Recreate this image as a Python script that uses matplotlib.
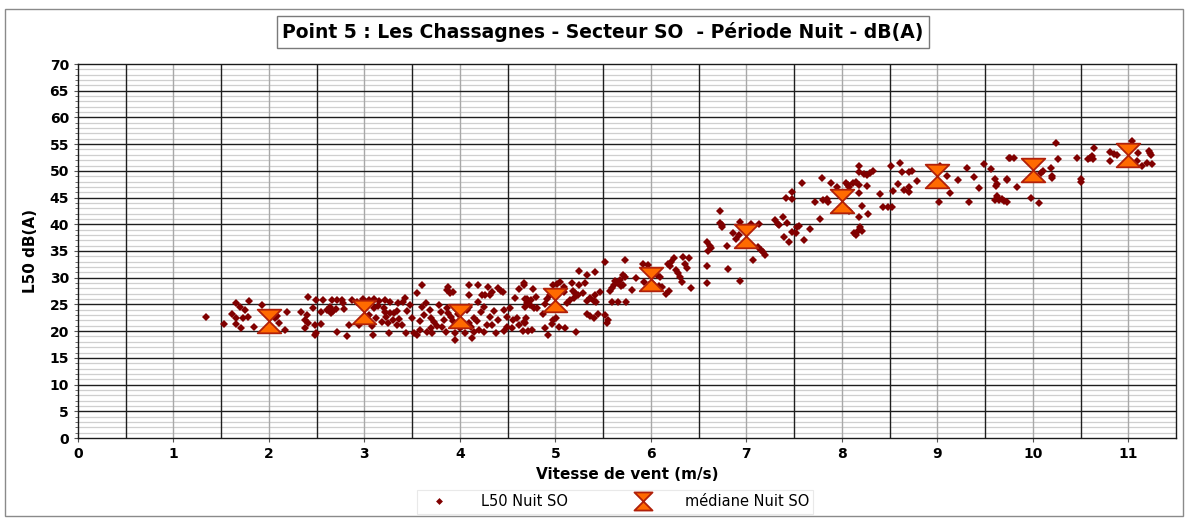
import numpy as np
import matplotlib
matplotlib.use("Agg")
import matplotlib.pyplot as plt
from matplotlib.path import Path
from matplotlib.patches import Rectangle
from matplotlib.lines import Line2D
from matplotlib.ticker import MultipleLocator

# ---------------- data ----------------
title = "Point 5 : Les Chassagnes - Secteur SO  - Période Nuit - dB(A)"
x_label = "Vitesse de vent (m/s)"
y_label = "L50 dB(A)"
series_points = "L50 Nuit SO"
series_median = "médiane Nuit SO"

median_speed = [2, 3, 4, 5, 6, 7, 8, 9, 10, 11]
median_l50 = [21.9, 23.6, 22.8, 25.8, 29.8, 37.8, 44.4, 49.0, 50.2, 53.0]

points_a = [(1.34,22.7),(1.66,25.2),(1.70,24.6),(1.79,25.6),(1.61,23.3),(1.75,24.0),(1.65,22.4),(1.73,22.4),
            (1.78,22.7),(1.53,21.3),(1.65,21.3),(1.71,20.5),(1.84,20.8),(1.93,24.8),(2.06,22.4),(2.10,21.5),
            (2.08,22.8),(2.01,20.2),(2.17,20.2),(2.19,23.5),(2.34,23.5),(2.41,26.4),(2.40,23.0),(2.38,22.1),
            (2.41,21.5),(2.38,20.6),(2.46,24.3),(2.49,25.8),(2.57,25.8),(2.48,21.1),(2.49,19.6),(2.48,19.2),
            (2.55,21.3),(2.55,23.6),(2.61,24.0),(2.64,24.5),(2.67,23.8),(2.70,24.2),(2.65,23.4),(2.66,25.8),
            (2.71,25.8),(2.76,25.8),(2.78,25.3),(2.71,19.9),(2.82,19.0),(2.79,24.1),(2.84,21.1),(2.87,25.8),
            (2.92,25.4),(2.94,21.1)]
points_b = [(2.99,26.1),(3.05,25.8),(3.10,26.0),(3.15,25.7),(3.22,25.8),(3.27,25.5),(3.04,24.9),(3.10,24.4),
            (3.14,24.7),(3.20,24.4),(3.22,23.6),(3.27,23.4),(3.31,23.4),(3.34,23.7),(3.23,22.7),(3.30,22.1),
            (3.36,22.3),(3.39,21.1),(3.34,21.2),(3.09,19.3),(3.26,19.6),(3.44,19.6),(3.52,19.6),(3.55,19.3),
            (3.48,24.9),(3.55,27.1),(3.60,28.6),(3.60,24.6),(3.69,24.0),(3.70,22.4),(3.73,21.7),(3.76,21.0),
            (3.70,20.6),(3.71,19.6),(3.81,20.8),(3.86,27.7),(3.90,27.2),(3.93,27.3),(3.88,28.3),(3.86,24.3),
            (3.88,23.4),(3.91,22.6),(3.93,21.9),(3.83,22.1),(3.95,19.6),(3.95,18.3),(4.00,20.5),(4.00,22.1),
            (4.07,24.0),(4.10,24.5),(4.09,21.6),(4.12,20.8),(4.15,22.5),(4.18,21.9),(4.15,19.8),(4.09,26.8),
            (4.09,28.6),(4.19,28.6),(4.19,25.5),(4.23,26.8),(4.26,26.8),(4.29,28.3),(4.31,26.8),(4.34,27.3),
            (4.28,21.1),(4.31,22.6),(4.34,21.2),(4.38,19.7),(4.40,28.0),(4.43,27.6),(4.45,27.3),(4.46,24.0),
            (4.49,22.6),(4.46,20.1),(4.49,20.7),(4.56,22.1),(4.60,22.5),(4.62,21.1),(4.67,28.6),(4.70,26.1),
            (4.68,24.6),(4.73,24.9),(4.68,21.6),(4.71,20.1),
            (3.05,23.0),(3.12,22.5),(3.18,21.8),(3.08,21.0),(3.25,21.5),(3.45,23.8),(3.40,25.4),(3.50,22.4),
            (3.58,21.9),(3.62,23.0),(3.65,25.3),(3.78,24.8),(3.80,23.5),(3.96,24.2),(3.98,23.3),(4.02,21.0),
            (4.05,19.6),(4.20,20.3),(4.22,23.5),(4.25,24.5),(4.36,23.8),(4.40,22.0),(4.52,24.3),(4.58,26.2),
            (4.62,27.8),(4.55,20.5),(3.35,25.2),(3.42,26.2),(3.58,20.3),(3.66,19.8),(3.85,19.9),(4.13,18.8),
            (4.25,19.9)]
points_c = [(4.67,29.0),(4.68,26.1),(4.77,27.8),(4.70,25.3),(4.74,25.8),(4.80,26.3),(4.78,24.3),(4.67,21.8),
            (4.69,22.4),(4.66,20.0),(4.75,20.2),(4.81,24.3),(4.87,23.3),(4.89,25.1),(4.91,26.0),(4.94,26.7),
            (4.92,19.3),(4.89,20.5),(4.98,22.0),(4.96,21.3),(5.01,22.4),(4.98,28.6),(5.02,28.9),(5.05,29.2),
            (5.09,28.3),(5.02,27.4),(5.09,27.4),(5.04,20.8),(5.10,20.5),(5.12,25.3),(5.15,25.9),(5.20,26.2),
            (5.24,26.8),(5.25,28.6),(5.18,27.6),(5.21,27.1),(5.17,29.0),(5.25,31.3),(5.22,19.9),(5.29,27.1),
            (5.31,29.0),(5.33,30.5),(5.42,31.1),(5.33,25.7),(5.36,26.2),(5.40,25.6),(5.43,25.4),(5.41,26.8),
            (5.33,23.3),(5.36,22.8),(5.40,22.5),(5.45,23.3),(5.47,27.4),(5.52,23.0),(5.52,33.0),(5.55,22.0),
            (5.54,21.5),(5.57,27.6),(5.59,28.0),(5.61,28.6),(5.59,25.5),(5.62,29.4),(5.66,29.1),(5.68,29.5),
            (5.69,28.5),(5.66,25.5),(5.74,25.5),(5.71,30.5),(5.73,30.1),(5.71,28.6),(5.73,33.4),(5.80,27.7),
            (5.84,29.9),(5.92,32.6),(5.97,32.3),(5.93,29.2),(5.98,28.7),(6.01,29.0),(6.06,30.5),(6.10,30.2),
            (6.09,28.5),(6.12,28.2),(6.19,27.6),(6.16,26.9),(6.18,32.6),(6.20,32.1),(6.21,33.0),(6.24,33.7),
            (6.26,31.5),(6.28,30.9),(6.34,33.8),(6.36,32.6),(6.33,29.2)]
points_d = [(6.31,30.1),(6.38,31.9),(6.40,33.6),(6.42,28.1),(6.59,32.2),(6.59,29.1),(6.60,35.0),(6.63,35.6),
            (6.62,35.9),(6.59,36.7),(6.72,42.4),(6.72,40.3),(6.74,39.8),(6.75,39.5),(6.80,35.9),(6.81,31.6),
            (6.86,38.3),(6.93,40.5),(6.93,29.4),(6.89,37.2),(6.92,38.0),(7.05,40.0),(7.13,40.0),(7.07,33.3),
            (7.12,35.7),(7.15,35.2),(7.17,34.8),(7.20,34.2),(7.30,40.8),(7.33,40.1),(7.34,39.9),(7.38,41.4),
            (7.39,37.7),(7.43,40.3),(7.42,44.9),(7.48,46.1),(7.48,44.7),(7.45,36.6),(7.48,38.5),(7.52,38.3),
            (7.53,39.5),(7.55,39.6),(7.58,47.8),(7.60,37.1),(7.67,39.1),(7.72,44.2),(7.77,40.9),(7.79,48.6),
            (7.86,44.2),(7.89,47.7),(7.95,47.0),(7.80,44.6),(7.84,44.7)]
points_e = [(8.04,47.7),(8.06,47.3),(8.08,46.9),(8.18,50.9),(8.18,49.7),(8.23,49.5),(8.26,49.2),(8.30,49.6),
            (8.33,49.9),(8.12,47.7),(8.15,48.0),(8.18,47.4),(8.26,47.2),(8.18,45.8),(8.07,42.4),(8.21,43.4),
            (8.18,41.4),(8.27,41.9),(8.19,39.4),(8.21,38.8),(8.17,38.8),(8.13,38.3),(8.15,38.0),(8.40,45.6),
            (8.43,43.2),(8.48,43.2),(8.53,43.2),(8.51,50.9),(8.61,51.4),(8.59,47.5),(8.54,46.2),(8.63,49.7),
            (8.70,49.7),(8.73,50.0),(8.65,46.4),(8.70,46.0),(8.70,47.0),(8.79,48.1),(8.97,50.5),(9.03,50.9),
            (9.10,49.0),(9.02,44.1),(9.13,45.9),(9.22,48.3),(9.31,50.5),(9.38,48.9),(9.33,44.2),(9.44,46.7),
            (9.49,51.3),(9.56,50.3),(9.60,48.4),(9.62,47.6),(9.61,47.2),(9.63,45.3),(9.65,44.5),(9.60,44.6),
            (9.70,44.4),(9.73,48.4),(9.75,52.5)]
points_f = [(9.76,52.5),(9.80,52.5),(9.73,48.3),(9.83,47.0),(9.68,44.8),(9.73,44.2),(9.98,45.0),(10.07,44.0),
            (10.09,49.6),(10.11,49.9),(10.19,50.6),(10.20,49.0),(10.20,48.6),(10.24,55.3),(10.26,52.3),
            (10.46,52.5),(10.50,48.4),(10.51,47.9),(10.58,52.2),(10.60,52.5),(10.63,52.3),(10.64,54.3),
            (10.62,52.8),(10.81,53.6),(10.81,51.9),(10.85,53.2),(10.88,52.9),(11.04,55.6),(11.10,53.4),
            (11.09,51.9),(11.14,50.9),(11.20,51.5),(11.22,53.8),(11.24,53.0),(11.25,51.3),(11.23,53.3)]

all_points = points_a + points_b + points_c + points_d + points_e + points_f
wind_speed = [p[0] for p in all_points]
l50 = [p[1] for p in all_points]

# ---------------- figure ----------------
W, H = 1190, 518
fig = plt.figure(figsize=(W / 100, H / 100), dpi=100)
fig.patch.set_facecolor("white")
fig.patches.append(Rectangle((5 / W, 2 / H), 1178 / W, 507 / H, transform=fig.transFigure,
                             fill=False, edgecolor="#8a8a8a", linewidth=1.0))

ax = fig.add_axes([78 / W, 80 / H, 1098 / W, 374 / H])
XMAX, YMAX = 11.5, 70
ax.set_xlim(0, XMAX)
ax.set_ylim(0, YMAX)

ax.xaxis.set_major_locator(MultipleLocator(1))
ax.yaxis.set_major_locator(MultipleLocator(5))
ax.yaxis.set_minor_locator(MultipleLocator(1))

# grid drawn manually so layering is controlled
for v in range(1, YMAX):
    if v % 5:
        ax.axhline(v, color="#cfcfcf", linewidth=0.9, zorder=0.5)
for v in range(1, int(XMAX) + 1):
    ax.axvline(v, color="#a8a8a8", linewidth=1.0, zorder=0.8)
for v in np.arange(0.5, XMAX, 1.0):
    ax.axvline(v, color="#1e1e1e", linewidth=1.0, zorder=1.0)
for v in range(5, YMAX, 5):
    ax.axhline(v, color="#1e1e1e", linewidth=1.0, zorder=1.1)

for s in ax.spines.values():
    s.set_color("#1a1a1a")
    s.set_linewidth(1.0)

ax.tick_params(which="both", direction="out", length=3, color="#555555", labelsize=10)
ax.tick_params(which="minor", length=2)
for lab in ax.get_xticklabels() + ax.get_yticklabels():
    lab.set_fontweight("bold")

ax.set_xlabel(x_label, fontsize=11, fontweight="bold", labelpad=4)
ax.set_ylabel(y_label, fontsize=11, fontweight="bold", labelpad=8)

hourglass = Path([(-1, 1), (1, 1), (-1, -1), (1, -1), (-1, 1)],
                 [Path.MOVETO, Path.LINETO, Path.LINETO, Path.LINETO, Path.CLOSEPOLY])

pt_style = dict(linestyle="none", marker="D", color="#800000", markeredgewidth=0)
md_style = dict(linestyle="none", marker=hourglass, markerfacecolor="#ff6a00",
                markeredgecolor="#b0200a", markeredgewidth=1.3)

ax.plot(wind_speed, l50, markersize=4.2, zorder=3, **pt_style)
ax.plot(median_speed, median_l50, markersize=17, zorder=4, **md_style)

fig.text(603 / W, 1 - 32 / H, title, ha="center", va="center", fontsize=13.5, fontweight="bold",
         bbox=dict(boxstyle="square,pad=0.3", facecolor="white", edgecolor="#7a7a7a", linewidth=1.0))

handles = [Line2D([], [], markersize=3.5, **pt_style),
           Line2D([], [], markersize=13, **md_style)]
leg = fig.legend(handles, [series_points, series_median], loc="center",
                 bbox_to_anchor=(615 / W, 1 - 502 / H), ncol=2, frameon=True,
                 fontsize=10.5, columnspacing=3.9, handletextpad=1.6, borderpad=0.3,
                 fancybox=False, handlelength=2.5)
leg.get_frame().set_edgecolor("#e4e4e4")
leg.get_frame().set_linewidth(0.8)

fig.savefig("out.png", dpi=100)
